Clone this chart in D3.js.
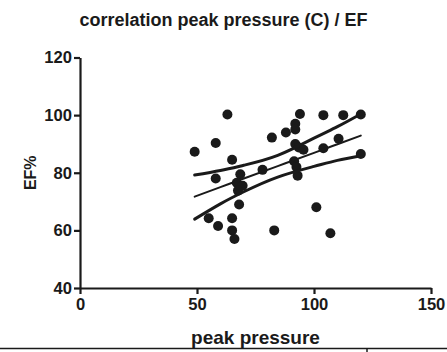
<!DOCTYPE html>
<html>
<head>
<meta charset="utf-8">
<script src="https://cdn.jsdelivr.net/npm/d3@7"></script>
<style>
  html, body { margin: 0; padding: 0; background: #fff; }
  svg { display: block; font-family: "Liberation Sans", Arial, sans-serif; }
  .axis path, .axis line { stroke: #1a1a1a; stroke-width: 2.2px; }
  .axis text { font-family: "Liberation Sans", Arial, sans-serif; font-size: 16.6px; font-weight: bold; fill: #1a1a1a; }
</style>
</head>
<body>
<svg id="chart" width="447" height="352"></svg>
<script>
// ── Data ─────────────────────────────────────────────────────────────────────

const peakPressure = [49, 55, 58, 58, 59, 63, 65, 65, 65, 66,
                      68.5, 67, 69.5, 67.5, 68, 78, 82, 83, 88, 92,
                      92, 94, 92, 93.5, 95.5, 91.5, 92.5, 93, 101, 104,
                      104, 107, 110.5, 112.5, 120, 120];
const efPercent    = [87.3, 64.2, 90.3, 78, 61.5, 100.2, 84.5, 64.2, 60, 57,
                      79.5, 76.5, 75.5, 73.8, 69, 81, 92.2, 60, 94, 97,
                      95, 100.4, 90, 88.8, 88, 84, 82, 79, 68, 100,
                      88.5, 59, 91.8, 100, 100.2, 86.5];

// regression line and 95% confidence band
const fitX     = [49, 60, 70, 84.5, 100, 110, 120];
const fitMid   = [71.7, 75.0, 78.0, 82.3, 86.9, 89.9, 92.9];
const fitUpper = [79.2, 80.8, 82.6, 86.0, 92.0, 96.0, 100.4];
const fitLower = [63.9, 69.2, 73.4, 78.5, 82.2, 84.3, 85.9];

const xTicks = [0, 50, 100, 150];
const yTicks = [40, 60, 80, 100, 120];

// ── Layout ───────────────────────────────────────────────────────────────────

const svg = d3.select('#chart');
const ink = '#1a1a1a';

const x = d3.scaleLinear().domain([0, 150]).range([80, 431]);
const y = d3.scaleLinear().domain([40, 120]).range([288, 57.5]);

// title
svg.append('text')
  .attr('x', 223.5).attr('y', 25.5)
  .attr('text-anchor', 'middle')
  .style('font-size', '18px').style('font-weight', 'bold').style('fill', ink)
  .text('correlation peak pressure (C) / EF');

// ── Axes ─────────────────────────────────────────────────────────────────────

svg.append('g')
  .attr('class', 'axis')
  .attr('transform', `translate(0,${y(40)})`)
  .call(d3.axisBottom(x).tickValues(xTicks).tickSize(6).tickPadding(4).tickSizeOuter(0));

svg.append('g')
  .attr('class', 'axis')
  .attr('transform', `translate(${x(0)},0)`)
  .call(d3.axisLeft(y).tickValues(yTicks).tickSize(6).tickPadding(2).tickSizeOuter(0));

// axis titles
svg.append('text')
  .attr('x', (x(0) + x(150)) / 2).attr('y', 344)
  .attr('text-anchor', 'middle')
  .style('font-size', '19px').style('font-weight', 'bold').style('fill', ink)
  .text('peak pressure');

svg.append('text')
  .attr('transform', `translate(36,${y(80)}) rotate(-90)`)
  .attr('text-anchor', 'middle')
  .style('font-size', '16px').style('font-weight', 'bold').style('fill', ink)
  .text('EF%');

// ── Points ───────────────────────────────────────────────────────────────────

svg.append('g').selectAll('circle')
  .data(d3.zip(peakPressure, efPercent))
  .join('circle')
  .attr('cx', d => x(d[0]))
  .attr('cy', d => y(d[1]))
  .attr('r', 5)
  .attr('fill', ink);

// ── Fit + confidence band ────────────────────────────────────────────────────

const band = d3.line().x(d => x(d[0])).y(d => y(d[1])).curve(d3.curveNatural);

[[fitUpper, 3], [fitLower, 3], [fitMid, 2]].forEach(([ys, w]) => {
  svg.append('path')
    .datum(d3.zip(fitX, ys))
    .attr('d', band)
    .attr('fill', 'none')
    .attr('stroke', ink)
    .attr('stroke-width', w)
    .attr('stroke-linecap', 'round');
});

// frame line at the bottom edge
svg.append('line')
  .attr('x1', 0).attr('x2', 447).attr('y1', 348.5).attr('y2', 348.5)
  .attr('stroke', ink).attr('stroke-width', 1.5);
svg.append('line')
  .attr('x1', 367).attr('x2', 367).attr('y1', 348.5).attr('y2', 352)
  .attr('stroke', ink).attr('stroke-width', 1.5);
</script>
</body>
</html>
